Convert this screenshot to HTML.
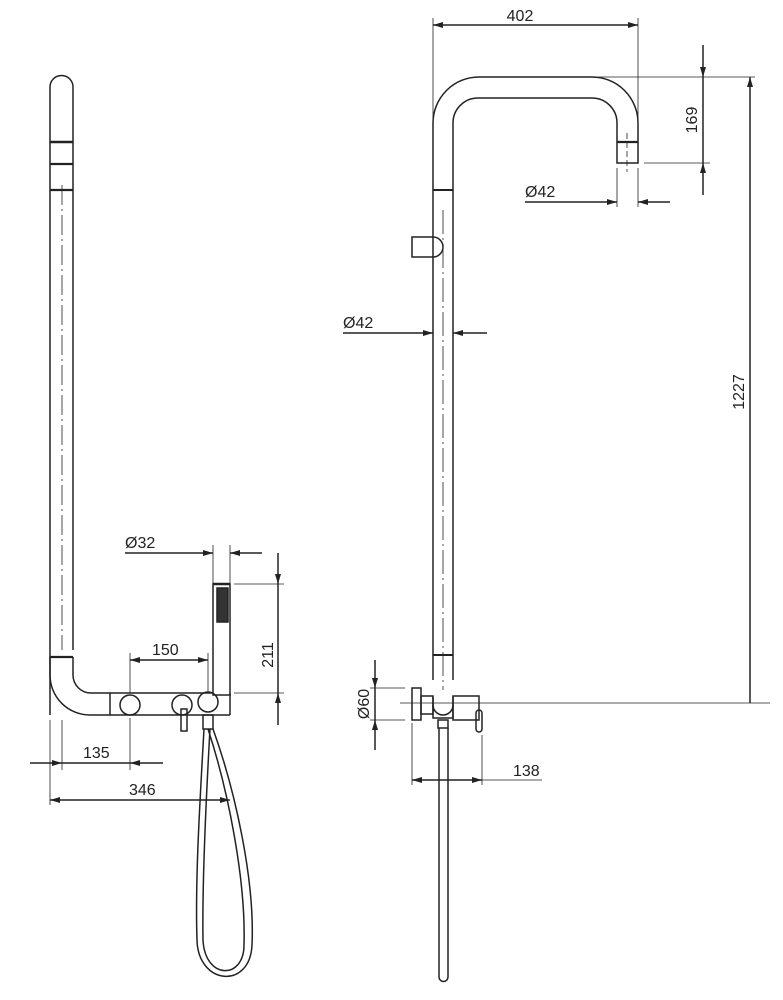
<!DOCTYPE html>
<html><head><meta charset="utf-8"><style>
html,body{margin:0;padding:0;background:#fff;}
svg{display:block}
text{font-family:"Liberation Sans Narrow","Liberation Sans",sans-serif;font-size:16px;fill:#222;}
</style></head><body>
<svg width="783" height="1000" viewBox="0 0 783 1000" xmlns="http://www.w3.org/2000/svg">
<defs>
<marker id="a" viewBox="0 0 10 6" refX="10" refY="3" markerWidth="11" markerHeight="6" orient="auto-start-reverse" markerUnits="userSpaceOnUse"><path d="M0,0 L10,3 L0,6Z" fill="#222"/></marker>
</defs>
<g fill="none" stroke="#222" stroke-width="1.5">
<!-- LEFT pipe -->
<path d="M50,715 V87 A11.5,11.5 0 0 1 73,87 V650"/>
<path d="M50,657 V675 A40,40 0 0 0 90,715 H230 M73,657 V675 A18,18 0 0 0 91,693 H213"/>
<line x1="50" y1="142" x2="73" y2="142" stroke-width="2.4"/>
<line x1="50" y1="164" x2="73" y2="164" stroke-width="2.2"/>
<line x1="50" y1="190" x2="73" y2="190" stroke-width="2.2"/>
<line x1="50" y1="657" x2="73" y2="657" stroke-width="2.2"/>
<line x1="62" y1="185" x2="62" y2="650" stroke-width="0.8" stroke-dasharray="20,4,2,4"/>
<line x1="110" y1="693" x2="110" y2="715"/>
<circle cx="130" cy="705" r="10"/>
<circle cx="182" cy="705" r="10"/>
<circle cx="208" cy="702" r="10"/>
<rect x="181" y="709" width="6" height="22"/>
<rect x="203" y="715" width="10" height="14"/>
<line x1="230" y1="693" x2="230" y2="715"/>
<rect x="213" y="584" width="17" height="111"/>
<rect x="217" y="588" width="11" height="34" fill="#333"/>
<line x1="213" y1="584" x2="230" y2="584" stroke-width="2.5"/>
<!-- hose -->
<path d="M204,729 C200,800 195,880 197,940 C198,985 250,990 252,945 C255,880 235,790 213,729"/>
<path d="M210,729 C206,800 202,880 203,940 C205,980 244,980 244,945 C246,880 228,790 208,729"/>
<!-- left dims -->
<line x1="125" y1="553" x2="213" y2="553" marker-end="url(#a)"/>
<line x1="262" y1="553" x2="230" y2="553" marker-end="url(#a)"/>
<line x1="213" y1="545" x2="213" y2="584" stroke-width="0.8"/>
<line x1="230" y1="545" x2="230" y2="584" stroke-width="0.8"/>
<line x1="278" y1="553" x2="278" y2="584" marker-end="url(#a)"/>
<line x1="278" y1="725" x2="278" y2="693" marker-end="url(#a)"/>
<line x1="278" y1="584" x2="278" y2="693"/>
<line x1="234" y1="584" x2="284" y2="584" stroke-width="0.8"/>
<line x1="234" y1="693" x2="284" y2="693" stroke-width="0.8"/>
<line x1="130" y1="660" x2="208" y2="660" marker-start="url(#a)" marker-end="url(#a)"/>
<line x1="130" y1="653" x2="130" y2="693" stroke-width="0.8"/>
<line x1="208" y1="653" x2="208" y2="692" stroke-width="0.8"/>
<line x1="30" y1="763" x2="62" y2="763" marker-end="url(#a)"/>
<line x1="163" y1="763" x2="130" y2="763" marker-end="url(#a)"/>
<line x1="62" y1="763" x2="130" y2="763"/>
<line x1="62" y1="720" x2="62" y2="770" stroke-width="0.8"/>
<line x1="130" y1="718" x2="130" y2="770" stroke-width="0.8"/>
<line x1="50" y1="720" x2="50" y2="805" stroke-width="0.8"/>
<line x1="50" y1="800" x2="230" y2="800" marker-start="url(#a)" marker-end="url(#a)"/>
<!-- RIGHT pipe -->
<path d="M433,680 V123 A46,46 0 0 1 479,77 H592 A46,46 0 0 1 638,123 V163 H617 V123 A25,25 0 0 0 592,98 H478 A25,25 0 0 0 453,123 V680"/>
<line x1="617" y1="142" x2="638" y2="142" stroke-width="2.2"/>
<line x1="433" y1="190" x2="453" y2="190" stroke-width="2"/>
<line x1="433" y1="655" x2="453" y2="655" stroke-width="2"/>
<line x1="627" y1="133" x2="627" y2="172" stroke-width="0.8" stroke-dasharray="6,3"/>
<line x1="443" y1="210" x2="443" y2="690" stroke-width="0.8" stroke-dasharray="24,4,2,4"/>
<path d="M433,237 H412 V257 H433 A10,10 0 0 0 433,237"/>
<!-- right mixer -->
<rect x="412" y="688" width="9" height="32"/>
<rect x="421" y="696" width="12" height="18"/>
<path d="M433,705 A10,10 0 0 0 453,705"/>
<path d="M433,697 V718 H453 V697"/>
<rect x="453" y="696" width="26" height="24"/>
<rect x="476" y="710" width="6" height="22" rx="3"/>
<rect x="438" y="720" width="10" height="8"/>
<path d="M439,728 V977 A4.5,4.5 0 0 0 448,977 V728"/>
<line x1="400" y1="703" x2="770" y2="703" stroke-width="0.8"/>
<!-- right dims -->
<line x1="433" y1="25" x2="638" y2="25" marker-start="url(#a)" marker-end="url(#a)"/>
<line x1="433" y1="18" x2="433" y2="120" stroke-width="0.8"/>
<line x1="638" y1="18" x2="638" y2="120" stroke-width="0.8"/>
<line x1="703" y1="45" x2="703" y2="77" marker-end="url(#a)"/>
<line x1="703" y1="195" x2="703" y2="163" marker-end="url(#a)"/>
<line x1="703" y1="77" x2="703" y2="163"/>
<line x1="598" y1="77" x2="755" y2="77" stroke-width="0.8"/>
<line x1="644" y1="163" x2="710" y2="163" stroke-width="0.8"/>
<line x1="525" y1="202" x2="617" y2="202" marker-end="url(#a)"/>
<line x1="670" y1="202" x2="638" y2="202" marker-end="url(#a)"/>
<line x1="617" y1="168" x2="617" y2="207" stroke-width="0.8"/>
<line x1="638" y1="168" x2="638" y2="207" stroke-width="0.8"/>
<line x1="750" y1="703" x2="750" y2="77" marker-end="url(#a)"/>
<line x1="343" y1="333" x2="433" y2="333" marker-end="url(#a)"/>
<line x1="487" y1="333" x2="453" y2="333" marker-end="url(#a)"/>
<line x1="375" y1="660" x2="375" y2="688" marker-end="url(#a)"/>
<line x1="375" y1="750" x2="375" y2="720" marker-end="url(#a)"/>
<line x1="375" y1="688" x2="375" y2="720"/>
<line x1="370" y1="688" x2="405" y2="688" stroke-width="0.8"/>
<line x1="370" y1="720" x2="405" y2="720" stroke-width="0.8"/>
<line x1="412" y1="723" x2="412" y2="785" stroke-width="0.8"/>
<line x1="482" y1="735" x2="482" y2="785" stroke-width="0.8"/>
<line x1="412" y1="780" x2="482" y2="780" marker-start="url(#a)" marker-end="url(#a)"/>
<line x1="482" y1="780" x2="542" y2="780" stroke-width="0.8"/>
</g>
<g>
<text x="125" y="548">Ø32</text>
<text x="152" y="655">150</text>
<text x="83" y="758">135</text>
<text x="129" y="795">346</text>
<text x="0" y="0" transform="translate(273,655) rotate(-90)" text-anchor="middle">211</text>
<text x="520" y="21" text-anchor="middle">402</text>
<text x="0" y="0" transform="translate(697,120) rotate(-90)" text-anchor="middle">169</text>
<text x="525" y="197">Ø42</text>
<text x="343" y="328">Ø42</text>
<text x="0" y="0" transform="translate(744,392) rotate(-90)" text-anchor="middle">1227</text>
<text x="0" y="0" transform="translate(369,704) rotate(-90)" text-anchor="middle">Ø60</text>
<text x="513" y="776">138</text>
</g>
</svg>
</body></html>
